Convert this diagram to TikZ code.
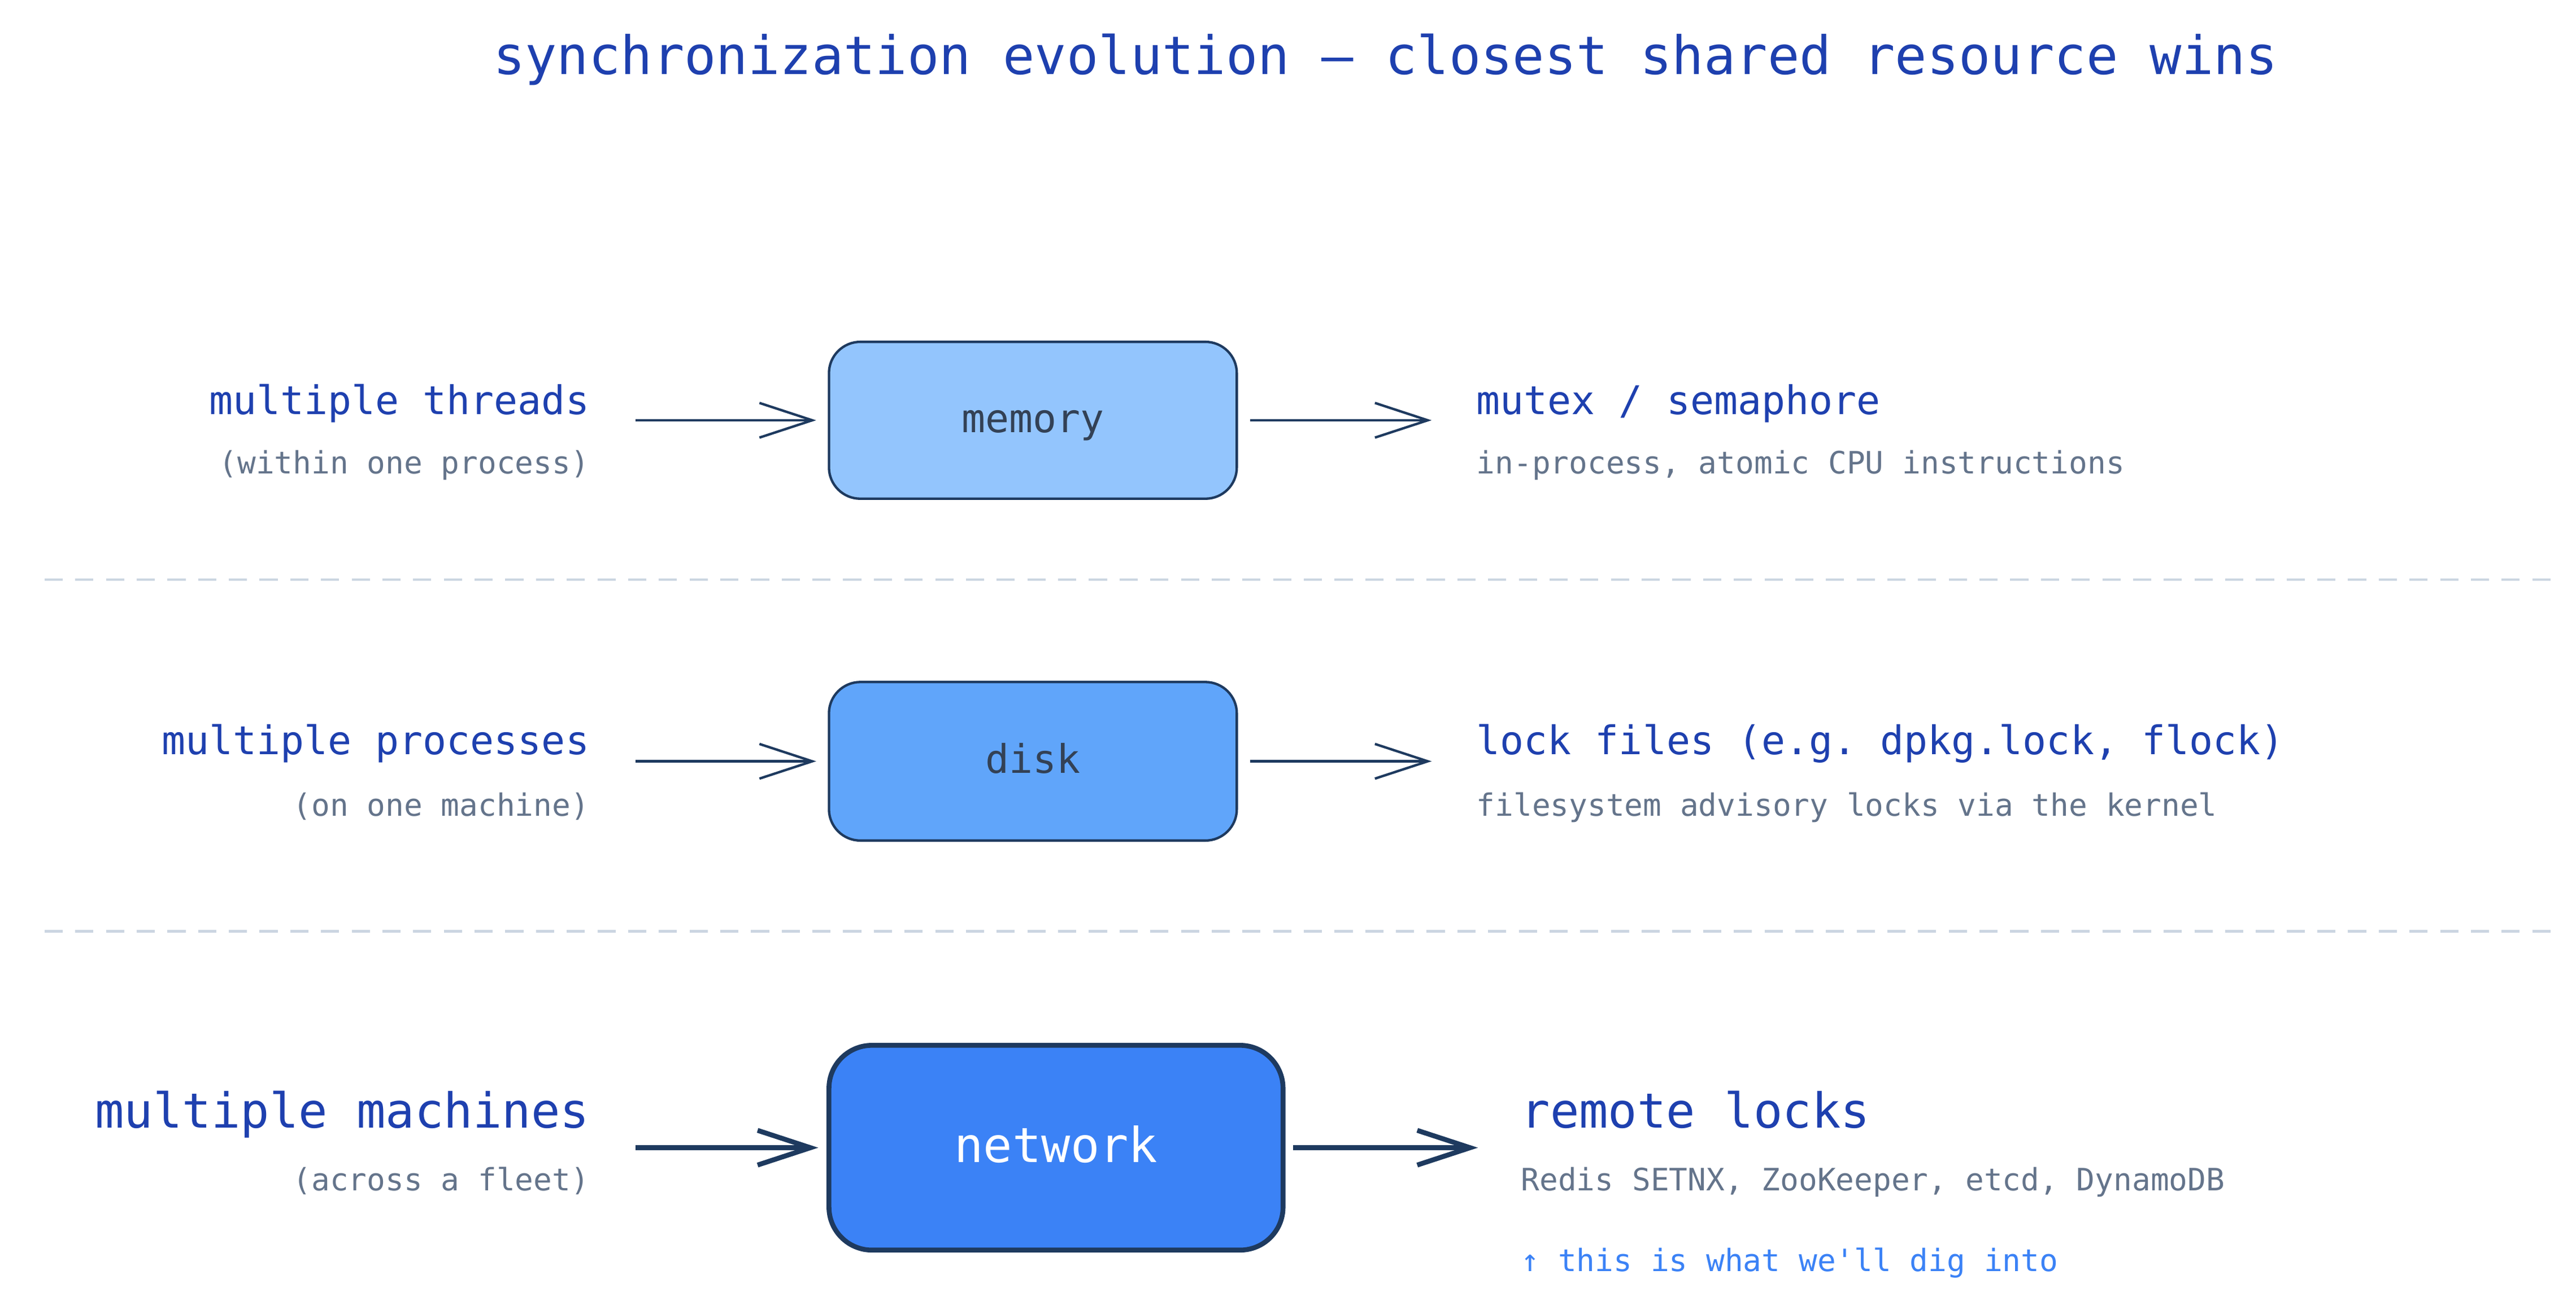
\documentclass[tikz,border=0pt]{standalone}
\usepackage{fontspec}
\setmonofont{DejaVu Sans Mono}
\usetikzlibrary{arrows.meta,positioning}
\definecolor{ttlblue}{HTML}{1E40AF}
\definecolor{subgray}{HTML}{64748B}
\definecolor{navy}{HTML}{1E3A5F}
\definecolor{memfill}{HTML}{93C5FD}
\definecolor{diskfill}{HTML}{60A5FA}
\definecolor{netfill}{HTML}{3B82F6}
\definecolor{boxtext}{HTML}{334155}
\definecolor{sepline}{HTML}{CBD5E1}
\tikzset{
      box/.style = {draw=navy, line width=2.1pt, rounded corners=0.95cm, inner sep=0pt},
      lbl/.style = {font=\ttfamily\fontsize{34}{34}\selectfont, text=ttlblue, inner sep=0pt},
      biglbl/.style = {font=\ttfamily\fontsize{41.6}{41.6}\selectfont, text=ttlblue, inner sep=0pt},
      sub/.style = {font=\ttfamily\fontsize{26.5}{26.5}\selectfont, text=subgray, inner sep=0pt},
      flow/.style = {navy, line width=2.1pt, shorten >=0.35cm, -{Straight Barb[length=1.6cm, width=1.05cm, line width=2.1pt]}},
      bigflow/.style = {navy, line width=4.2pt, shorten >=0.25cm, -{Straight Barb[length=1.6cm, width=1.05cm, line width=4.2pt]}},
      sep/.style = {sepline, line width=2.4pt, dash pattern=on 0.55cm off 0.38cm},
    }
\begin{document}
\begin{tikzpicture}[x=0.05cm, y=-0.05cm]
        \useasboundingbox (0,0) rectangle (1560,790);
        \node[font=\ttfamily\fontsize{45.6}{45.6}\selectfont, text=ttlblue, anchor=base] (title) at (839,45) {synchronization evolution — closest shared resource wins};

        % memory row
        \node[box, fill=memfill, minimum width=12.35cm, minimum height=4.75cm] (mem) at (625.5,254.5) {};
        \node[lbl, text=boxtext, anchor=base] (memtxt) at (625.5,262) {memory};
        \node[lbl, anchor=base east] (thr) at (357,251) {multiple threads};
        \node[sub, anchor=base east] (thrsub) at (357,287) {(within one process)};
        \node[lbl, anchor=base west] (mtx) at (894,251) {mutex / semaphore};
        \node[sub, anchor=base west] (mtxsub) at (894,287) {in-process, atomic CPU instructions};
        \coordinate (thrend) at (385,254.5);
        \coordinate (mtxbeg) at (757,254.5);
        \coordinate (mtxend) at (867,254.5);
        \draw[flow] (thrend) -- (mem.west);
        \draw[flow, shorten >=0pt] (mtxbeg) -- (mtxend);

        \coordinate (sepa) at (27,351);
        \coordinate (sepb) at (1550,351);
        \draw[sep] (sepa) -- (sepb);

        % disk row
        \node[box, fill=diskfill, minimum width=12.35cm, minimum height=4.8cm] (dsk) at (625.5,461) {};
        \node[lbl, text=boxtext, anchor=base] (dsktxt) at (625.5,468) {disk};
        \node[lbl, anchor=base east] (prc) at (357,457) {multiple processes};
        \node[sub, anchor=base east] (prcsub) at (357,494) {(on one machine)};
        \node[lbl, anchor=base west] (lck) at (894,457) {lock files (e.g. dpkg.lock, flock)};
        \node[sub, anchor=base west] (lcksub) at (894,494) {filesystem advisory locks via the kernel};
        \coordinate (prcend) at (385,461);
        \coordinate (lckbeg) at (757,461);
        \coordinate (lckend) at (867,461);
        \draw[flow] (prcend) -- (dsk.west);
        \draw[flow, shorten >=0pt] (lckbeg) -- (lckend);

        \coordinate (sepc) at (27,564);
        \coordinate (sepd) at (1550,564);
        \draw[sep] (sepc) -- (sepd);

        % network row
        \node[box, fill=netfill, line width=4.2pt, rounded corners=1.3cm, minimum width=13.75cm, minimum height=6.2cm] (net) at (639.5,695) {};
        \node[biglbl, text=white, anchor=base] (nettxt) at (639.5,704) {network};
        \node[biglbl, anchor=base east] (mch) at (357,683) {multiple machines};
        \node[sub, anchor=base east] (mchsub) at (357,721) {(across a fleet)};
        \node[biglbl, anchor=base west] (rmt) at (921,683) {remote locks};
        \node[sub, anchor=base west] (rmtsub) at (921,721) {Redis SETNX, ZooKeeper, etcd, DynamoDB};
        \node[sub, text=netfill, anchor=base west] (dig) at (921,770) {↑ this is what we'll dig into};
        \coordinate (mchend) at (385,695);
        \coordinate (rmtbeg) at (783,695);
        \coordinate (rmtend) at (895,695);
        \draw[bigflow] (mchend) -- (net.west);
        \draw[bigflow, shorten >=0pt] (rmtbeg) -- (rmtend);
\end{tikzpicture}
\end{document}
